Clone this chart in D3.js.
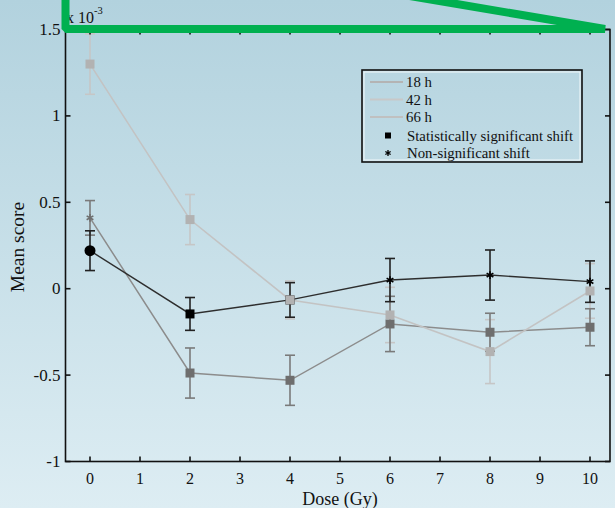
<!DOCTYPE html>
<html>
<head>
<meta charset="utf-8">
<script src="https://cdn.jsdelivr.net/npm/d3@7"></script>
<style>
  html, body { margin: 0; padding: 0; background: #c6e0ea; }
  svg { display: block; }
</style>
</head>
<body>
<svg id="chart" width="615" height="508"></svg>
<script>
// Dose levels (Gy) and mean score (x 10^-3) with error half-widths per incubation time
const doses = [0, 2, 4, 6, 8, 10];

const mean18 = [0.22, -0.146, -0.065, 0.05, 0.079, 0.041];
const err18  = [0.115, 0.095, 0.10, 0.125, 0.145, 0.12];
const mark18 = ["circle", "square", "square", "star", "star", "star"];

const mean42 = [0.41, -0.488, -0.53, -0.204, -0.252, -0.223];
const err42  = [0.10, 0.145, 0.145, 0.16, 0.11, 0.107];
const mark42 = ["star", "square", "square", "square", "square", "square"];

const mean66 = [1.30, 0.40, -0.065, -0.152, -0.364, -0.013];
const err66  = [0.175, 0.145, 0.11, 0.16, 0.185, 0.158];
const mark66 = ["square", "square", "square", "square", "square", "square"];

const xTicks = [0, 1, 2, 3, 4, 5, 6, 7, 8, 9, 10];
const yTicks = [-1, -0.5, 0, 0.5, 1, 1.5];
const yTickLabels = ["-1", "-0.5", "0", "0.5", "1", "1.5"];

const legendLines = ["18 h", "42 h", "66 h"];
const legendMarks = ["Statistically significant shift", "Non-significant shift"];

const FONT = "'Liberation Serif', 'Times New Roman', 'DejaVu Serif', serif";

const svg = d3.select("#chart")
  .attr("font-family", FONT)
  .style("font-family", FONT);
const W = 615, H = 508;

// background gradient
const defs = svg.append("defs");
const grad = defs.append("linearGradient").attr("id", "bg")
  .attr("x1", 0).attr("y1", 0).attr("x2", 0).attr("y2", 1);
grad.append("stop").attr("offset", "0%").attr("stop-color", "#b2d2de");
grad.append("stop").attr("offset", "100%").attr("stop-color", "#ddedf3");
svg.append("rect").attr("width", W).attr("height", H).attr("fill", "url(#bg)");

// plot frame
const plotL = 65.5, plotR = 610, plotT = 29.5, plotB = 461.5;
const x = d3.scaleLinear().domain([-0.49, 10.4]).range([plotL, plotR]);
const y = d3.scaleLinear().domain([-1, 1.5]).range([plotB, plotT]);

const series = [
  { mean: mean66, err: err66, mark: mark66, line: "#c3c3c3", bar: "#c6c6c6", fill: "#b2b2b2", lw: 1.6 },
  { mean: mean42, err: err42, mark: mark42, line: "#8c8c8c", bar: "#7a7a7a", fill: "#6e6e6e", lw: 1.5 },
  { mean: mean18, err: err18, mark: mark18, line: "#2e2e2e", bar: "#222", fill: "#000", lw: 1.4 }
];

const capW = 5;

// error bars
series.forEach(s => {
  const g = svg.append("g").attr("stroke", s.bar).attr("stroke-width", 1.6).attr("fill", "none");
  doses.forEach((d, i) => {
    const cx = x(d), y0 = y(s.mean[i] - s.err[i]), y1 = y(s.mean[i] + s.err[i]);
    g.append("line").attr("x1", cx).attr("x2", cx).attr("y1", y0).attr("y2", y1);
    g.append("line").attr("x1", cx - capW).attr("x2", cx + capW).attr("y1", y0).attr("y2", y0);
    g.append("line").attr("x1", cx - capW).attr("x2", cx + capW).attr("y1", y1).attr("y2", y1);
  });
});

// connecting lines
const lineGen = d3.line().x((d, i) => x(doses[i])).y(d => y(d));
[series[1], series[2], series[0]].forEach(s => {
  svg.append("path").datum(s.mean).attr("d", lineGen)
    .attr("fill", "none").attr("stroke", s.line).attr("stroke-width", s.lw);
});

// markers
function drawMarker(g, type, cx, cy, fill) {
  if (type === "circle") {
    g.append("circle").attr("cx", cx).attr("cy", cy).attr("r", 5.5).attr("fill", fill);
  } else if (type === "square") {
    g.append("rect").attr("x", cx - 4.5).attr("y", cy - 4.5).attr("width", 9).attr("height", 9).attr("fill", fill);
  } else {
    g.append("path").attr("transform", `translate(${cx},${cy})`)
      .attr("d", d3.symbol(d3.symbolAsterisk, 42)())
      .attr("fill", "none").attr("stroke", fill).attr("stroke-width", 1.6);
  }
}
[series[2], series[1], series[0]].forEach(s => {
  const g = svg.append("g");
  doses.forEach((d, i) => drawMarker(g, s.mark[i], x(d), y(s.mean[i]), s.fill));
});

// axes frame and ticks (inward)
const axisG = svg.append("g").attr("stroke", "#111").attr("stroke-width", 1.6);
axisG.append("rect").attr("x", plotL).attr("y", plotT).attr("width", plotR - plotL).attr("height", plotB - plotT)
  .attr("fill", "none");
xTicks.forEach(t => {
  axisG.append("line").attr("x1", x(t)).attr("x2", x(t)).attr("y1", plotB).attr("y2", plotB - 5);
  axisG.append("line").attr("x1", x(t)).attr("x2", x(t)).attr("y1", plotT).attr("y2", plotT + 5);
});
yTicks.forEach(t => {
  axisG.append("line").attr("x1", plotL).attr("x2", plotL + 5).attr("y1", y(t)).attr("y2", y(t));
  axisG.append("line").attr("x1", plotR).attr("x2", plotR - 5).attr("y1", y(t)).attr("y2", y(t));
});

// tick labels
const txt = sel => sel.attr("font-family", FONT).attr("fill", "#111");
svg.append("g").selectAll("text").data(xTicks).join("text").call(txt)
  .attr("x", d => x(d)).attr("y", 483.5).attr("text-anchor", "middle")
  .attr("font-size", 16).text(d => d);
svg.append("g").selectAll("text").data(yTicks).join("text").call(txt)
  .attr("x", plotL - 5).attr("y", d => y(d) + 5.5).attr("text-anchor", "end")
  .attr("font-size", 17).text((d, i) => yTickLabels[i]);

// axis titles
svg.append("text").call(txt).attr("x", 340).attr("y", 505).attr("text-anchor", "middle")
  .attr("font-size", 18).text("Dose (Gy)");
svg.append("text").call(txt).attr("transform", "translate(24,247) rotate(-90)").attr("text-anchor", "middle")
  .attr("font-size", 19.5).text("Mean score");

// exponent multiplier
const mult = svg.append("text").call(txt).attr("x", 66).attr("y", 23).attr("font-size", 16);
mult.append("tspan").text("x 10");
mult.append("tspan").attr("font-size", 10.5).attr("dy", -9).text("-3");

// legend
const lg = svg.append("g");
lg.append("rect").attr("x", 362).attr("y", 70).attr("width", 220).attr("height", 92)
  .attr("fill", "none").attr("stroke", "#111").attr("stroke-width", 1.6);
lg.append("rect").attr("x", 364).attr("y", 72).attr("width", 216).attr("height", 88)
  .attr("fill", "none").attr("stroke", "#f2f8fa").attr("stroke-width", 1);
const legLineColors = ["#b4b4b4", "#c8c8c8", "#c0c0c0"];
legendLines.forEach((name, i) => {
  const yy = 82 + i * 17.5;
  lg.append("line").attr("x1", 370).attr("x2", 403).attr("y1", yy).attr("y2", yy)
    .attr("stroke", legLineColors[i]).attr("stroke-width", 1.8);
  lg.append("text").call(txt).attr("x", 406).attr("y", yy + 5).attr("font-size", 14.8).text(name);
});
legendMarks.forEach((name, i) => {
  const yy = 135.5 + i * 17.5;
  if (i === 0) {
    lg.append("rect").attr("x", 385).attr("y", yy - 3).attr("width", 6).attr("height", 6).attr("fill", "#000");
  } else {
    lg.append("path").attr("transform", `translate(388,${yy})`)
      .attr("d", d3.symbol(d3.symbolAsterisk, 26)())
      .attr("fill", "none").attr("stroke", "#000").attr("stroke-width", 1.3);
  }
  lg.append("text").call(txt).attr("x", 407).attr("y", yy + 5).attr("font-size", 14.8).text(name);
});

// green highlight outline along the top of the plot
svg.append("path")
  .attr("d", "M65.5,-10 L65.5,29 L605,29 L374,-10")
  .attr("fill", "none").attr("stroke", "#00b050").attr("stroke-width", 8)
  .attr("stroke-linejoin", "bevel");
</script>
</body>
</html>
